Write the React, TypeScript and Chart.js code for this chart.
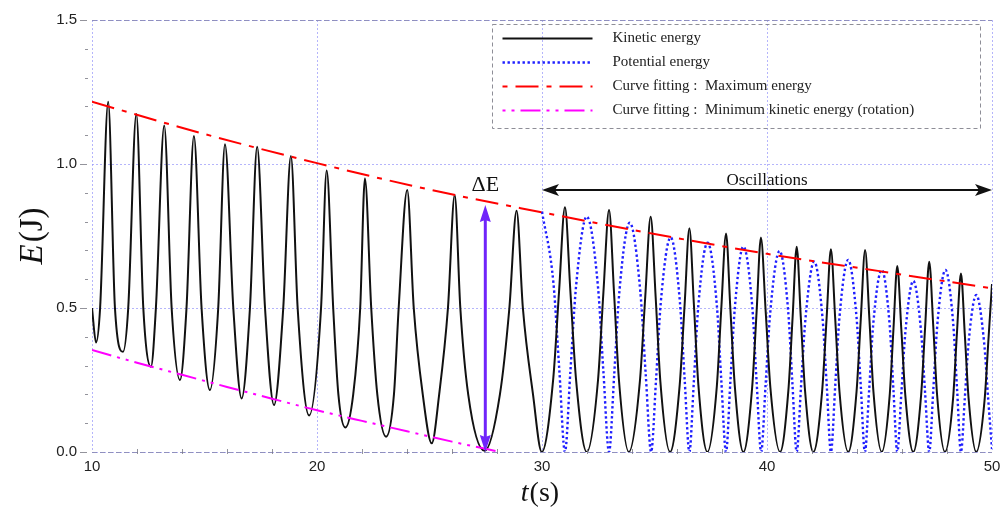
import React, { useEffect, useRef } from "react";
import { Chart, registerables } from "chart.js";

Chart.register(...registerables);

// ---- data (t in s, E in J) ----
const kineticEnergy: [number, number][] = [
  [10.0, 0.5], [10.18, 0.38], [10.36, 0.5], [10.72, 1.216], [11.02, 0.5], [11.38, 0.348],
  [11.61, 0.5], [11.97, 1.174], [12.28, 0.5], [12.62, 0.296], [12.84, 0.5], [13.21, 1.134],
  [13.54, 0.5], [13.91, 0.25], [14.2, 0.5], [14.53, 1.097], [14.87, 0.5], [15.24, 0.215],
  [15.61, 0.5], [15.91, 1.069], [16.28, 0.5], [16.65, 0.186], [17.02, 0.5], [17.34, 1.06],
  [17.69, 0.5], [18.09, 0.163], [18.5, 0.5], [18.84, 1.028], [19.14, 0.5], [19.65, 0.127],
  [20.18, 0.5], [20.43, 0.977], [20.72, 0.5], [20.95, 0.2], [21.26, 0.085], [21.61, 0.2],
  [21.92, 0.5], [22.13, 0.95], [22.41, 0.5], [22.68, 0.2], [23.07, 0.053], [23.42, 0.2],
  [23.63, 0.5], [24.01, 0.91], [24.3, 0.5], [24.7, 0.2], [25.1, 0.03], [25.43, 0.2],
  [25.82, 0.5], [26.12, 0.892], [26.37, 0.5], [26.72, 0.2], [27.45, 0.004], [28.13, 0.2],
  [28.55, 0.5], [28.87, 0.838], [29.15, 0.5], [29.6, 0.2], [29.99, 0.0],
  [30.5, 0.255], [30.76, 0.56], [31.02, 0.85], [31.26, 0.56], [31.51, 0.255], [31.99, 0],
  [32.49, 0.25], [32.73, 0.555], [32.98, 0.84], [33.2, 0.555], [33.42, 0.25], [33.86, 0],
  [34.35, 0.245], [34.59, 0.54], [34.83, 0.817], [35.05, 0.54], [35.26, 0.245], [35.69, 0],
  [36.12, 0.233], [36.34, 0.513], [36.55, 0.777], [36.75, 0.513], [36.95, 0.233], [37.35, 0],
  [37.77, 0.228], [37.97, 0.5], [38.18, 0.759], [38.37, 0.5], [38.57, 0.228], [38.95, 0],
  [39.34, 0.224], [39.54, 0.49], [39.73, 0.745], [39.94, 0.49], [40.15, 0.224], [40.58, 0],
  [40.95, 0.214], [41.14, 0.47], [41.32, 0.713], [41.5, 0.47], [41.69, 0.214], [42.06, 0],
  [42.45, 0.211], [42.65, 0.465], [42.84, 0.704], [43.03, 0.465], [43.22, 0.211], [43.61, 0],
  [43.98, 0.21], [44.17, 0.463], [44.36, 0.701], [44.55, 0.463], [44.73, 0.21], [45.1, 0],
  [45.45, 0.194], [45.62, 0.426], [45.79, 0.646], [45.97, 0.426], [46.15, 0.194], [46.5, 0],
  [46.85, 0.198], [47.03, 0.436], [47.21, 0.661], [47.39, 0.436], [47.56, 0.198], [47.91, 0],
  [48.27, 0.186], [48.44, 0.41], [48.62, 0.62], [48.79, 0.41], [48.96, 0.186], [49.3, 0],
  [49.67, 0.18], [49.85, 0.4], [50.0, 0.583],
];

const potentialEnergy: [number, number][] = [
  [30.0, 0.835], [30.51, 0.585], [30.77, 0.284], [31.02, 0],
  [31.26, 0.278], [31.51, 0.572], [31.99, 0.817], [32.49, 0.572], [32.73, 0.278], [32.98, 0],
  [33.21, 0.27], [33.44, 0.557], [33.9, 0.796], [34.37, 0.557], [34.61, 0.27], [34.85, 0],
  [35.07, 0.253], [35.28, 0.52], [35.72, 0.745], [36.13, 0.52], [36.34, 0.253], [36.55, 0],
  [36.75, 0.247], [36.95, 0.51], [37.36, 0.727], [37.77, 0.51], [37.97, 0.247], [38.18, 0],
  [38.37, 0.242], [38.57, 0.5], [38.95, 0.713], [39.35, 0.5], [39.54, 0.242], [39.74, 0],
  [39.94, 0.237], [40.15, 0.49], [40.56, 0.698], [40.94, 0.49], [41.13, 0.237], [41.32, 0],
  [41.51, 0.225], [41.71, 0.463], [42.1, 0.661], [42.47, 0.463], [42.66, 0.225], [42.84, 0],
  [43.03, 0.227], [43.22, 0.467], [43.61, 0.667], [43.98, 0.467], [44.17, 0.227], [44.35, 0],
  [44.54, 0.215], [44.72, 0.442], [45.1, 0.632], [45.45, 0.442], [45.62, 0.215], [45.79, 0],
  [45.97, 0.202], [46.15, 0.416], [46.5, 0.594], [46.85, 0.416], [47.03, 0.202], [47.21, 0],
  [47.39, 0.215], [47.57, 0.442], [47.93, 0.632], [48.28, 0.442], [48.45, 0.215], [48.62, 0],
  [48.79, 0.185], [48.96, 0.38], [49.3, 0.545], [49.65, 0.38], [49.83, 0.185], [50.0, 0.01],
];

const maxEnergyFit: [number, number][] = [
  [10, 1.216], [15, 1.104], [20, 1.003], [25, 0.911], [30, 0.832],
  [35, 0.757], [40, 0.688], [45, 0.628], [50, 0.568],
];

const minKineticFit: [number, number][] = [
  [10, 0.354], [12, 0.31], [14, 0.268], [16, 0.226], [18, 0.185],
  [20, 0.145], [22, 0.108], [24, 0.072], [26, 0.036], [28.15, 0.0],
];

const seriesLabels = [
  "Kinetic energy",
  "Potential energy",
  "Curve fitting :  Maximum energy",
  "Curve fitting :  Minimum kinetic energy (rotation)",
];

const xMinorTicks = [12, 14, 16, 18, 22, 24, 26, 28, 32, 34, 36, 38, 42, 44, 46, 48];
const yMinorTicks = [0.1, 0.2, 0.3, 0.4, 0.6, 0.7, 0.8, 0.9, 1.1, 1.2, 1.3, 1.4];
const yMajorTicks = [0, 0.5, 1.0, 1.5];

const deltaEArrow = { t: 27.48, low: 0, high: 0.858, label: "ΔE" };
const oscillationArrow = { from: 30, to: 50, e: 0.91, label: "Oscillations" };

// ---- styles ----
const SERIF = "'Liberation Serif', 'DejaVu Serif', serif";
const SANS = "'Liberation Sans', Arial, sans-serif";
const GRID = "rgba(150,150,250,0.7)";
const styles = [
  { color: "#111111", width: 2, dash: [] as number[], legendOffset: 0 },
  { color: "rgb(30,30,255)", width: 2.4, dash: [2.4, 2.6], legendOffset: 0 },
  { color: "rgb(255,0,0)", width: 2, dash: [23, 8, 5, 8], legendOffset: 31 },
  { color: "rgb(255,0,255)", width: 2, dash: [20, 6, 3, 6, 3, 6], legendOffset: 26 },
];

function arrowHead(ctx: CanvasRenderingContext2D, tx: number, ty: number, dx: number, dy: number, len: number, half: number, notch: number) {
  const bx = tx - dx * len, by = ty - dy * len;
  const px = -dy, py = dx;
  const nx = tx - dx * (len - notch), ny = ty - dy * (len - notch);
  ctx.beginPath();
  ctx.moveTo(tx, ty);
  ctx.lineTo(bx + px * half, by + py * half);
  ctx.lineTo(nx, ny);
  ctx.lineTo(bx - px * half, by - py * half);
  ctx.closePath();
  ctx.fill();
}

const overlayPlugin = {
  id: "overlay",
  afterDatasetsDraw(chart: any) {
    const { ctx, chartArea: a, scales } = chart;
    const x = scales.x, y = scales.y;
    ctx.save();

    // dashed top & bottom frame
    ctx.strokeStyle = "rgba(140,140,185,0.95)";
    ctx.lineWidth = 1;
    ctx.setLineDash([5, 3]);
    ctx.beginPath();
    ctx.moveTo(a.left, a.top + 0.5); ctx.lineTo(a.right, a.top + 0.5);
    ctx.moveTo(a.left, a.bottom + 0.5); ctx.lineTo(a.right, a.bottom + 0.5);
    ctx.stroke();
    ctx.setLineDash([]);

    // ticks
    ctx.strokeStyle = "rgba(120,120,130,0.8)";
    ctx.lineWidth = 1;
    ctx.beginPath();
    for (const v of yMajorTicks) {
      const py = Math.round(y.getPixelForValue(v)) + 0.5;
      ctx.moveTo(a.left - 12, py); ctx.lineTo(a.left - 5, py);
    }
    for (const v of yMinorTicks) {
      const py = Math.round(y.getPixelForValue(v)) + 0.5;
      ctx.moveTo(a.left - 7, py); ctx.lineTo(a.left - 4, py);
    }
    for (const v of xMinorTicks) {
      const px = Math.round(x.getPixelForValue(v)) + 0.5;
      ctx.moveTo(px, a.bottom - 3); ctx.lineTo(px, a.bottom + 2);
    }
    ctx.stroke();

    // Delta E arrow
    const ax = x.getPixelForValue(deltaEArrow.t);
    const yTop = y.getPixelForValue(deltaEArrow.high);
    const yBot = y.getPixelForValue(deltaEArrow.low);
    const purple = "rgb(112,36,250)";
    ctx.strokeStyle = purple;
    ctx.fillStyle = purple;
    ctx.lineWidth = 3;
    ctx.beginPath();
    ctx.moveTo(ax, yTop + 12); ctx.lineTo(ax, yBot - 12);
    ctx.stroke();
    arrowHead(ctx, ax, yTop, 0, -1, 17, 5.5, 2);
    arrowHead(ctx, ax, yBot, 0, 1, 17, 5.5, 2);
    ctx.fillStyle = "#111";
    ctx.font = `22px ${SERIF}`;
    ctx.textAlign = "center";
    ctx.textBaseline = "alphabetic";
    ctx.fillText(deltaEArrow.label, ax, yTop - 14);

    // Oscillations arrow
    const ox1 = x.getPixelForValue(oscillationArrow.from);
    const ox2 = x.getPixelForValue(oscillationArrow.to);
    const oy = y.getPixelForValue(oscillationArrow.e);
    ctx.strokeStyle = "#111";
    ctx.fillStyle = "#111";
    ctx.lineWidth = 2;
    ctx.beginPath();
    ctx.moveTo(ox1 + 10, oy); ctx.lineTo(ox2 - 10, oy);
    ctx.stroke();
    arrowHead(ctx, ox1, oy, -1, 0, 17, 6, 4);
    arrowHead(ctx, ox2, oy, 1, 0, 17, 6, 4);
    ctx.font = `17px ${SERIF}`;
    ctx.fillText(oscillationArrow.label, (ox1 + ox2) / 2, oy - 5);

    // legend
    const bw = 488, bh = 104;
    const bl = a.right - 12.5 - bw;
    const bt = a.top + 4;
    ctx.strokeStyle = "rgba(130,130,140,0.9)";
    ctx.lineWidth = 1;
    ctx.setLineDash([4, 3]);
    ctx.strokeRect(Math.round(bl) + 0.5, Math.round(bt) + 0.5, bw, bh);
    ctx.setLineDash([]);
    ctx.font = `15px ${SERIF}`;
    ctx.textAlign = "left";
    ctx.textBaseline = "middle";
    seriesLabels.forEach((label, i) => {
      const s = styles[i];
      const ry = bt + 14.5 + i * 24;
      ctx.strokeStyle = s.color;
      ctx.lineWidth = s.width;
      ctx.setLineDash(s.dash);
      ctx.lineDashOffset = s.legendOffset;
      ctx.beginPath();
      ctx.moveTo(bl + 11, ry); ctx.lineTo(bl + 101, ry);
      ctx.stroke();
      ctx.setLineDash([]);
      ctx.lineDashOffset = 0;
      ctx.fillStyle = "#222";
      ctx.fillText(label, bl + 121, ry);
    });

    ctx.restore();
  },
  afterDraw(chart: any) {
    const { ctx, chartArea: a } = chart;
    ctx.save();
    ctx.fillStyle = "#111";
    ctx.textBaseline = "alphabetic";
    ctx.textAlign = "left";
    // x title: t(s)
    const itX = `italic 28px ${SERIF}`;
    const ntX = `28px ${SERIF}`;
    ctx.font = itX; const wT = ctx.measureText("t").width;
    ctx.font = ntX; const wS = ctx.measureText("(s)").width;
    const cx = (a.left + a.right) / 2 - 2;
    let sx = cx - (wT + wS + 1) / 2;
    ctx.font = itX; ctx.fillText("t", sx, 501);
    ctx.font = ntX; ctx.fillText("(s)", sx + wT + 1, 501);
    // y title: E(J)
    const itY = `italic 33px ${SERIF}`;
    const ntY = `33px ${SERIF}`;
    ctx.translate(42, (a.top + a.bottom) / 2);
    ctx.rotate(-Math.PI / 2);
    ctx.font = itY; const wE = ctx.measureText("E").width;
    ctx.font = ntY; const wJ = ctx.measureText("(J)").width;
    sx = -(wE + wJ + 2) / 2;
    ctx.font = itY; ctx.fillText("E", sx, 0);
    ctx.font = ntY; ctx.fillText("(J)", sx + wE + 2, 0);
    ctx.restore();
  },
};

const toXY = (pts: [number, number][]) => pts.map(([px, py]) => ({ x: px, y: py }));

export default function App() {
  const canvasRef = useRef<HTMLCanvasElement | null>(null);

  useEffect(() => {
    document.body.style.margin = "0";
    document.body.style.background = "#ffffff";
    const canvas = canvasRef.current;
    if (!canvas) return;
    const seriesData = [kineticEnergy, potentialEnergy, maxEnergyFit, minKineticFit];
    const orders = [3, 4, 1, 2];
    const chart = new Chart(canvas, {
      type: "line",
      data: {
        datasets: seriesData.map((d, i) => ({
          label: seriesLabels[i],
          data: toXY(d),
          borderColor: styles[i].color,
          backgroundColor: styles[i].color,
          borderWidth: styles[i].width,
          borderDash: styles[i].dash,
          pointRadius: 0,
          fill: false,
          cubicInterpolationMode: "monotone" as const,
          order: orders[i],
        })),
      },
      options: {
        responsive: false,
        animation: false,
        events: [],
        layout: { padding: { top: 20, right: 9, left: 0, bottom: 0 } },
        plugins: { legend: { display: false }, tooltip: { enabled: false }, title: { display: false } },
        scales: {
          x: {
            type: "linear",
            min: 10,
            max: 50,
            ticks: {
              stepSize: 10,
              autoSkip: false,
              maxRotation: 0,
              padding: 6,
              color: "#222",
              font: { family: SANS, size: 15 },
              callback: (v: any) => String(v),
            },
            grid: { color: GRID, lineWidth: 1, drawTicks: false },
            border: { display: false, dash: [2, 2] },
            afterFit: (s: any) => { s.height = 56; s.paddingLeft = 0; s.paddingRight = 0; },
          },
          y: {
            type: "linear",
            min: 0,
            max: 1.5,
            ticks: {
              stepSize: 0.5,
              padding: 15,
              color: "#222",
              font: { family: SANS, size: 15 },
              callback: (v: any) => Number(v).toFixed(1),
            },
            grid: { color: GRID, lineWidth: 1, drawTicks: false },
            border: { display: false, dash: [2, 2] },
            afterFit: (s: any) => { s.width = 92; s.paddingTop = 0; s.paddingBottom = 0; },
          },
        },
      },
      plugins: [overlayPlugin],
    } as any);
    return () => chart.destroy();
  }, []);

  return (
    <div style={{ width: 1001, height: 508, background: "#fff" }}>
      <canvas ref={canvasRef} width={1001} height={508} style={{ display: "block" }} />
    </div>
  );
}
